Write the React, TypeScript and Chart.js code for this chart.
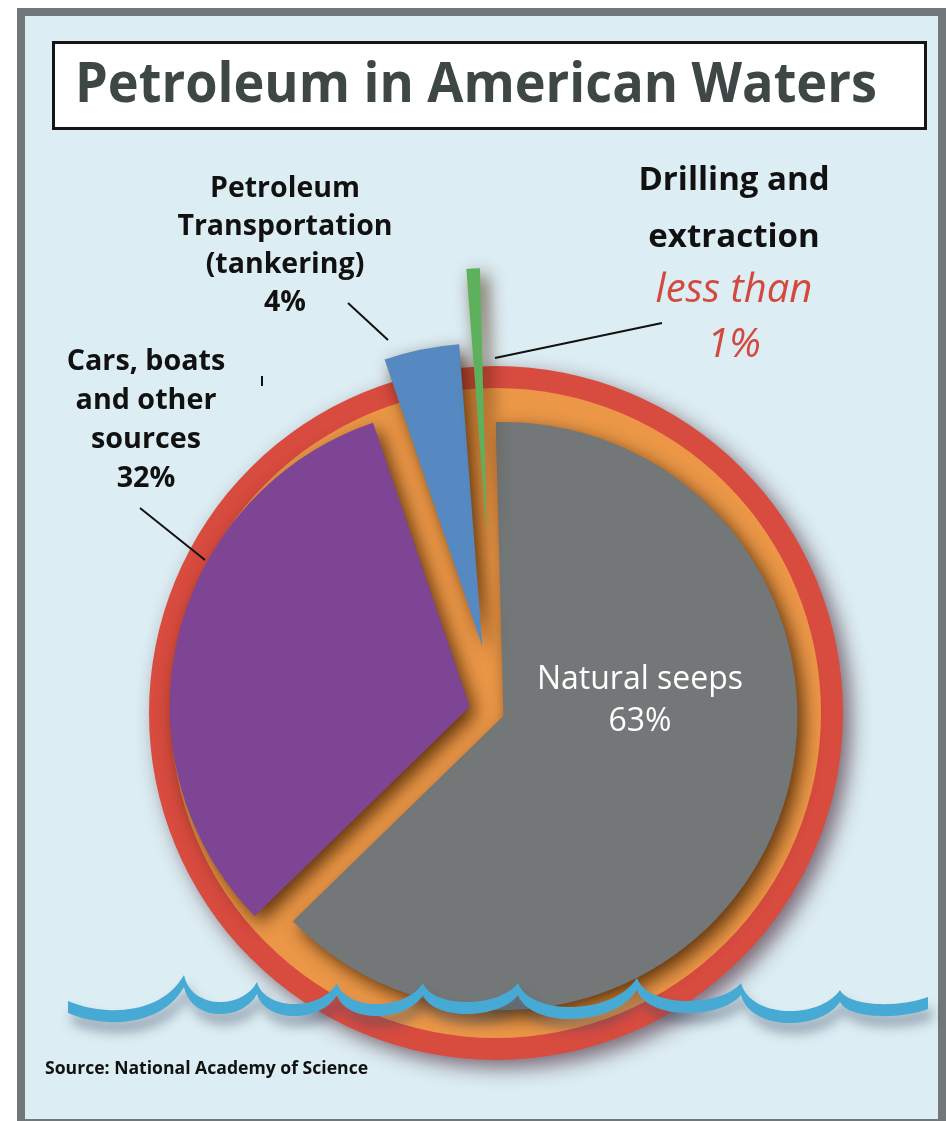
import React, { useEffect, useRef } from "react";
import { Chart, ArcElement, PieController, registerables } from "chart.js";

Chart.register(...registerables);

// ---------------- data ----------------
const categories = [
  "Natural seeps",
  "Cars, boats and other sources",
  "Petroleum Transportation (tankering)",
  "Drilling and extraction",
];
const shares = [63, 32, 4, 0.8]; // percent ("less than 1%" for drilling)

const titleText = "Petroleum in American Waters";
const sourceText = "Source: National Academy of Science";
const seepsLines = ["Natural seeps", "63%"];
const carsLines = ["Cars, boats", "and other", "sources", "32%"];
const tankerLines = ["Petroleum", "Transportation", "(tankering)", "4%"];
const drillLines = ["Drilling and", "extraction"];
const drillShareLines = ["less than", "1%"];

// ---------------- styles ----------------
const BG = "#dcedf3";
const FRAME = "#727779";
const RED = "#d84b3f";
const ORANGE = "#eb9747";
const WAVE = "#47aad4";
const SLICE_COLORS = ["#737778", "#7e4595", "#5689c1", "#5eb15c"];
const SLICE_SHIFT = [8, 27, 68, 175]; // explode distance (px)
const SLICE_GROW = [2, 8, 11, -22]; // radius adjustment per slice (px)
const PIE_RADIUS = 292;
const FONT = '"Open Sans", "DejaVu Sans", sans-serif';

// decorative wave outline (canvas px)
const WAVE_NODES: [number, number][] = [
  [68, 1001], [184, 975], [257, 982], [337, 983], [423, 983],
  [518, 983], [637, 978], [741, 983], [840, 990], [928, 997],
];
const WAVE_TROUGHS = [1009, 1002, 1004, 1004, 1002, 1007, 1001, 1011, 1004];
const WAVE_THICK = 12;
const LEADERS: [number, number, number, number][] = [
  [348, 303, 388, 340],
  [140, 508, 205, 560],
  [495, 358, 662, 323],
  [262, 376, 262, 386],
];

// ---------------- custom exploded arc ----------------
class ExplodedArc extends ArcElement {
  static id = "explodedArc";
  static defaults = { ...(ArcElement as any).defaults, grow: 0 };
  draw(ctx: CanvasRenderingContext2D) {
    const self: any = this;
    const o: any = self.options;
    const mid = (self.startAngle + self.endAngle) / 2;
    const shift = o.offset || 0;
    const r = Math.max(self.outerRadius + (o.grow || 0), 0);
    ctx.save();
    ctx.translate(Math.cos(mid) * shift, Math.sin(mid) * shift);
    ctx.beginPath();
    ctx.moveTo(self.x, self.y);
    ctx.arc(self.x, self.y, r, self.startAngle, self.endAngle);
    ctx.closePath();
    ctx.fillStyle = o.backgroundColor;
    ctx.fill();
    ctx.restore();
  }
}
class ExplodedPieController extends PieController {
  static id = "explodedPie";
  static defaults = { ...(PieController as any).defaults, dataElementType: "explodedArc" };
  static overrides = (PieController as any).overrides;
}
Chart.register(ExplodedArc as any, ExplodedPieController as any);

function drawWaves(ctx: CanvasRenderingContext2D) {
  const segs: any[] = [];
  for (let i = 0; i < WAVE_NODES.length - 1; i++) {
    const [xa, ya] = WAVE_NODES[i];
    const [xb, yb] = WAVE_NODES[i + 1];
    const w = xb - xa;
    const k1 = i === 0 ? 0.3 : 0.1;
    const k2 = i === WAVE_NODES.length - 2 ? 0.3 : 0.2;
    const yc = (WAVE_TROUGHS[i] - 0.125 * (ya + yb)) / 0.75;
    segs.push({ xa, ya, xb, yb, c1x: xa + k1 * w, c2x: xb - k2 * w, yc });
  }
  const T = WAVE_THICK;
  ctx.save();
  ctx.shadowColor = "rgba(60, 75, 100, 0.45)";
  ctx.shadowBlur = 12;
  ctx.shadowOffsetX = 4;
  ctx.shadowOffsetY = 10;
  ctx.fillStyle = WAVE;
  ctx.beginPath();
  ctx.moveTo(segs[0].xa, segs[0].ya);
  for (const s of segs) ctx.bezierCurveTo(s.c1x, s.yc, s.c2x, s.yc, s.xb, s.yb);
  const last = segs[segs.length - 1];
  ctx.lineTo(last.xb, last.yb + T);
  for (let i = segs.length - 1; i >= 0; i--) {
    const s = segs[i];
    ctx.bezierCurveTo(s.c2x, s.yc + T, s.c1x, s.yc + T, s.xa, s.ya + T);
  }
  ctx.closePath();
  ctx.fill();
  ctx.restore();
}

const decorPlugin = {
  id: "decor",
  beforeDatasetsDraw(chart: any) {
    const ctx: CanvasRenderingContext2D = chart.ctx;
    const first = chart.getDatasetMeta(0).data[0];
    if (first) {
      const { x, y, outerRadius } = first;
      ctx.save();
      ctx.shadowColor = "rgba(70, 35, 50, 0.65)";
      ctx.shadowBlur = 20;
      ctx.shadowOffsetX = 8;
      ctx.shadowOffsetY = 8;
      ctx.fillStyle = RED;
      ctx.beginPath();
      ctx.arc(x, y, outerRadius + 55, 0, Math.PI * 2);
      ctx.fill();
      ctx.restore();
      ctx.fillStyle = ORANGE;
      ctx.beginPath();
      ctx.arc(x, y, outerRadius + 33, 0, Math.PI * 2);
      ctx.fill();
    }
    ctx.save();
    ctx.shadowColor = "rgba(65, 32, 0, 0.82)";
    ctx.shadowBlur = 18;
    ctx.shadowOffsetX = 6;
    ctx.shadowOffsetY = 7;
  },
  afterDatasetsDraw(chart: any) {
    const ctx: CanvasRenderingContext2D = chart.ctx;
    ctx.restore();
    drawWaves(ctx);
    ctx.save();
    ctx.strokeStyle = "#111";
    ctx.lineWidth = 2;
    for (const [x1, y1, x2, y2] of LEADERS) {
      ctx.beginPath();
      ctx.moveTo(x1, y1);
      ctx.lineTo(x2, y2);
      ctx.stroke();
    }
    ctx.restore();
  },
};

type TBProps = {
  lines: string[];
  cx?: number;
  left?: number;
  baseline: number;
  size: number;
  lh: number;
  weight?: number;
  color?: string;
  italic?: boolean;
  sx?: number;
};

function TextBlock({ lines, cx, left, baseline, size, lh, weight = 700, color = "#111", italic, sx }: TBProps) {
  const top = baseline - ((lh - 1.362 * size) / 2 + 1.069 * size);
  const centered = cx !== undefined;
  const style: React.CSSProperties = {
    position: "absolute",
    top,
    left: centered ? (cx as number) - 500 : left,
    width: centered ? 1000 : undefined,
    textAlign: centered ? "center" : "left",
    fontFamily: FONT,
    fontSize: size,
    lineHeight: `${lh}px`,
    fontWeight: weight,
    fontStyle: italic ? "italic" : "normal",
    color,
    whiteSpace: "pre",
    margin: 0,
    transform: sx ? `scaleX(${sx})` : undefined,
    transformOrigin: centered ? "50% 50%" : "0 50%",
  };
  return (
    <div style={style}>
      {lines.map((l, i) => (
        <div key={i}>{l}</div>
      ))}
    </div>
  );
}

export default function App() {
  const canvasRef = useRef<HTMLCanvasElement | null>(null);

  useEffect(() => {
    if (!canvasRef.current) return;
    const chart = new Chart(canvasRef.current, {
      type: "explodedPie" as any,
      data: {
        labels: categories,
        datasets: [
          {
            data: shares,
            backgroundColor: SLICE_COLORS,
            borderWidth: 0,
            offset: SLICE_SHIFT,
            grow: SLICE_GROW,
            radius: PIE_RADIUS,
            rotation: -1.5,
            clip: false,
          } as any,
        ],
      },
      options: {
        animation: false,
        responsive: false,
        events: [],
        layout: { padding: { left: 196, right: 150, top: 413, bottom: 108 } },
        plugins: { legend: { display: false }, tooltip: { enabled: false }, title: { display: false } },
      } as any,
      plugins: [decorPlugin],
    });
    return () => chart.destroy();
  }, []);

  return (
    <div style={{ position: "fixed", left: 0, top: 0, width: 946, height: 1121, overflow: "hidden", background: "#fff" }}>
      <div
        style={{
          position: "absolute",
          left: 17,
          top: 8,
          width: 929,
          height: 1119,
          boxSizing: "border-box",
          border: `8px solid ${FRAME}`,
          background: BG,
        }}
      />
      <div
        style={{
          position: "absolute",
          left: 52,
          top: 41,
          width: 875,
          height: 89,
          boxSizing: "border-box",
          border: "3px solid #151515",
          background: "#fff",
        }}
      />
      <canvas
        ref={canvasRef}
        width={946}
        height={1121}
        style={{ position: "absolute", left: 0, top: 0, width: 946, height: 1121 }}
      />
      <TextBlock lines={[titleText]} cx={476} baseline={102} size={55} lh={70} color="#3e4646" sx={0.95} />
      <TextBlock lines={tankerLines} cx={285} baseline={197} size={28.5} lh={38} />
      <TextBlock lines={drillLines} cx={734} baseline={190} size={33} lh={57} />
      <TextBlock lines={drillShareLines} cx={734} baseline={302} size={40} lh={55} weight={400} italic color="#d5483e" />
      <TextBlock lines={carsLines} cx={146} baseline={370} size={28.7} lh={39} />
      <TextBlock lines={seepsLines} cx={640} baseline={689} size={32} lh={42} weight={400} color="#ffffff" />
      <TextBlock lines={[sourceText]} left={45} baseline={1074} size={17.6} lh={24} />
    </div>
  );
}
